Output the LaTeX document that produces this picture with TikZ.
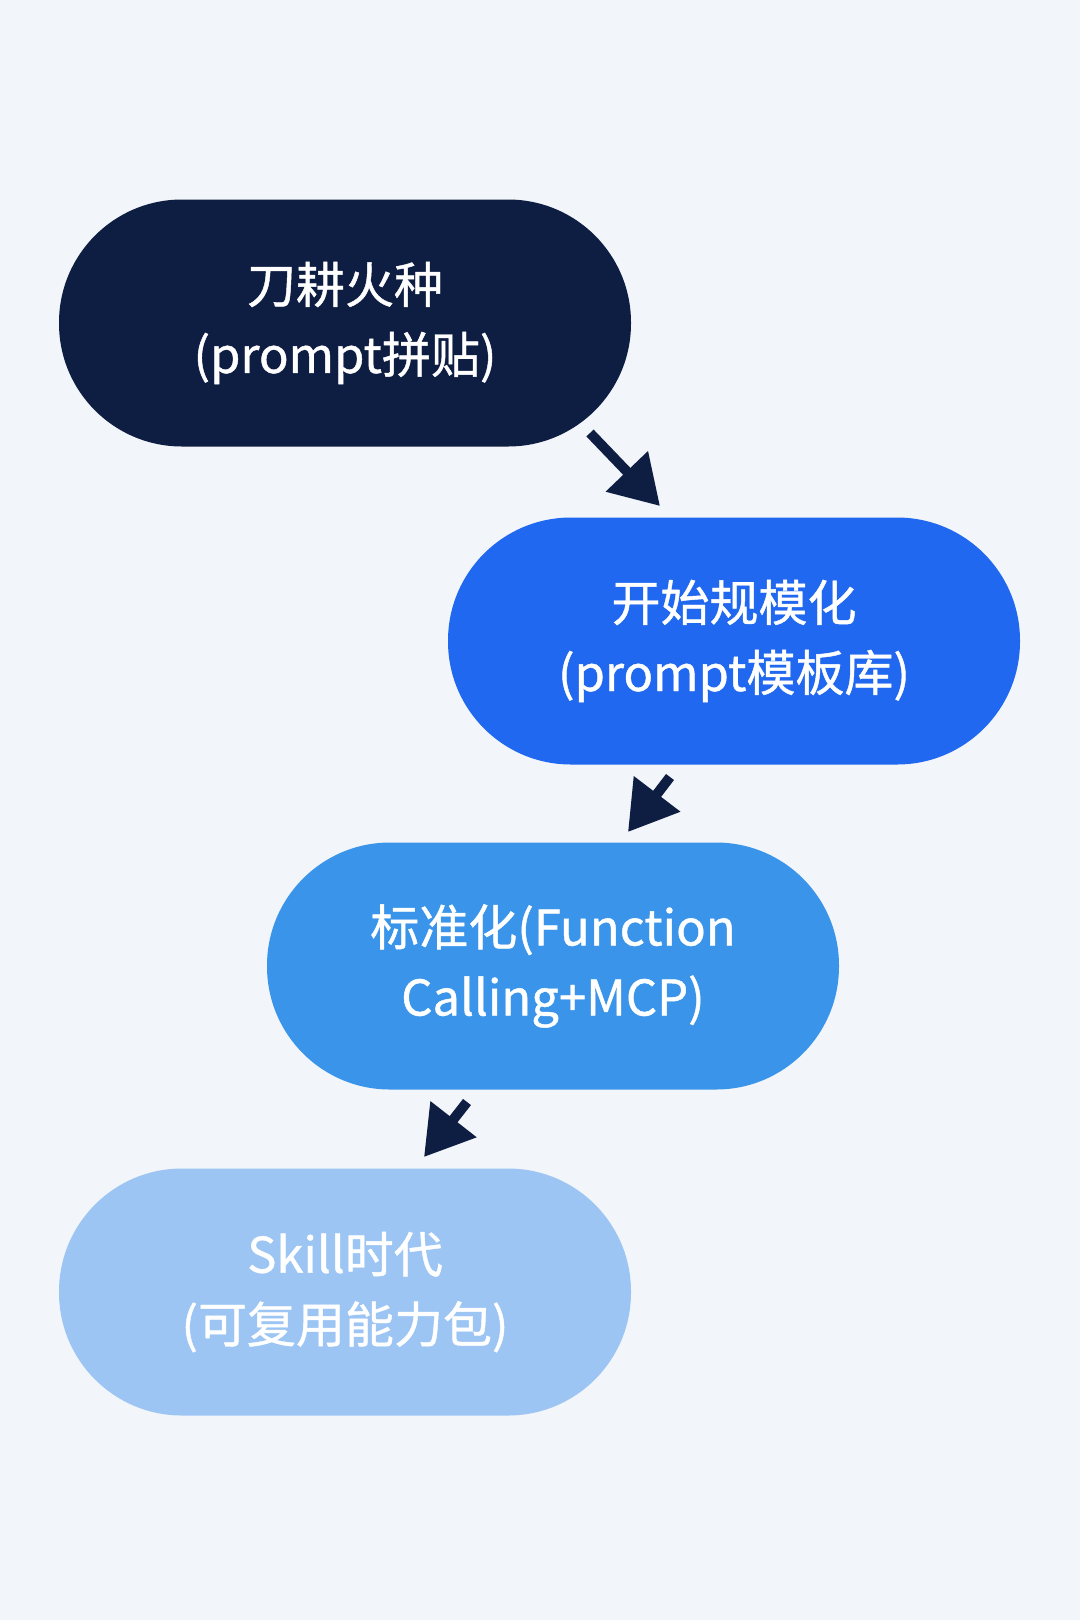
\documentclass[tikz,border=0pt]{standalone}
\usepackage{fontspec}
\setmainfont{Noto Sans CJK SC}[FakeBold=0.9]
\usetikzlibrary{arrows.meta}
\definecolor{bg}{HTML}{F2F5F9}
\definecolor{navy}{HTML}{0E1D42}
\definecolor{blueA}{HTML}{1F68EF}
\definecolor{blueB}{HTML}{3A95EA}
\definecolor{blueC}{HTML}{9CC5F3}
\tikzset{
  pill/.style={rectangle, rounded corners=123pt, minimum width=572pt, minimum height=247pt,
    inner sep=0pt, text=white, align=center, font=\fontsize{49pt}{70pt}\selectfont},
  flow/.style={draw=navy, line width=10pt, -{Triangle[length=48pt,width=56pt]}}
}
\begin{document}
\begin{tikzpicture}[x=1pt,y=-1pt]
\fill[bg] (0,0) rectangle (1080,1620);
\useasboundingbox (0,0) rectangle (1080,1620);
\node[pill, fill=navy] (n1) at (345,323) {刀耕火种\\(prompt拼贴)};
\node[pill, fill=blueA] (n2) at (734,641) {开始规模化\\(prompt模板库)};
\node[pill, fill=blueB] (n3) at (553,966) {标准化(Function\\Calling+MCP)};
\node[pill, fill=blueC] (n4) at (345,1292) {Skill时代\\(可复用能力包)};
\coordinate (a1s) at (590,433);
\coordinate (a1e) at (660,506);
\coordinate (a2s) at (670,777);
\coordinate (a2e) at (628,832);
\coordinate (a3s) at (467,1102);
\coordinate (a3e) at (424,1157);
\draw[flow] (a1s) -- (a1e);
\draw[flow] (a2s) -- (a2e);
\draw[flow] (a3s) -- (a3e);
\end{tikzpicture}
\end{document}
